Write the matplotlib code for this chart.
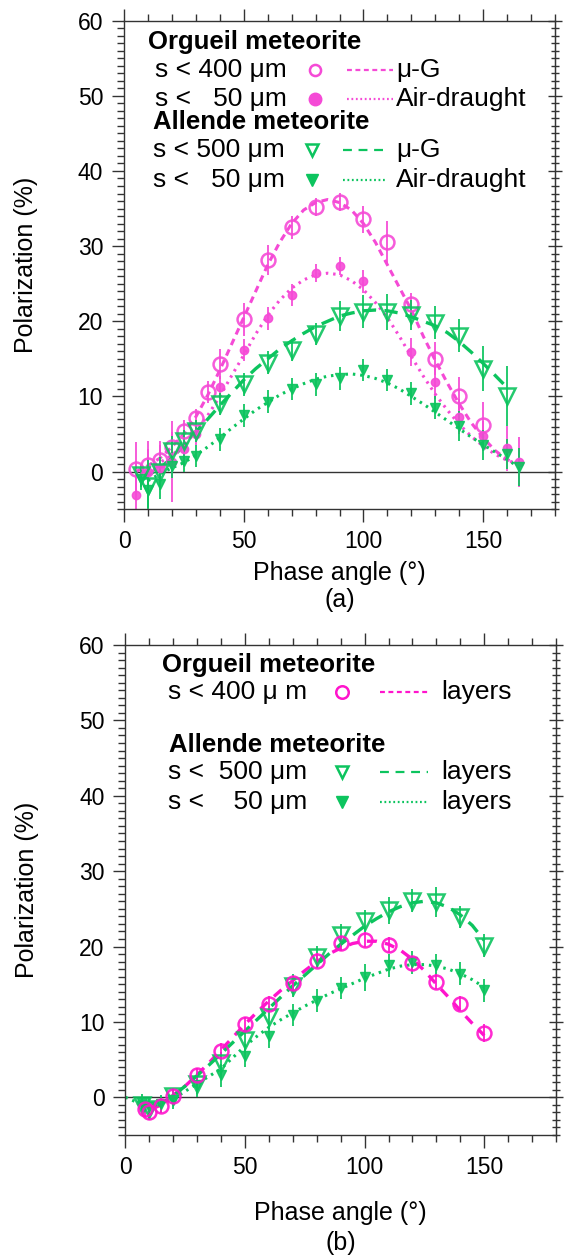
#Description: Polarization vs phase angle for Orgueil and Allende meteorite dust (two panels)

#Libraries
import numpy as np
import matplotlib
matplotlib.use('Agg')
import matplotlib.pyplot as plt
from matplotlib.ticker import MultipleLocator

plt.rcParams['font.family'] = ['Liberation Sans', 'DejaVu Sans']

#Colours
pink = '#f54ad6'
magenta = '#ff14cc'
green = '#0cc45e'

#---------------- Panel (a) data ----------------
#Orgueil s<400 um (open circles)
ang_a_org400 = [5, 10, 15, 20, 25, 30, 35, 40, 50, 60, 70, 80, 90, 100, 110, 120, 130, 140, 150]
pol_a_org400 = [0.4, 0.9, 1.6, 3.3, 5.4, 7.1, 10.6, 14.3, 20.3, 28.1, 32.5, 35.2, 35.9, 33.6, 30.5, 22.3, 15.0, 10.1, 6.2]
err_a_org400 = [3.5, 3.2, 2.5, 2.0, 1.5, 1.2, 1.5, 2.0, 2.2, 2.0, 1.5, 1.2, 1.2, 1.8, 2.8, 1.5, 2.2, 2.5, 3.0]
#Orgueil s<50 um (filled circles)
ang_a_org50 = [5, 10, 15, 20, 25, 30, 40, 50, 60, 70, 80, 90, 100, 120, 130, 140, 150, 160, 165]
pol_a_org50 = [-3.1, 0.0, 0.5, 1.3, 3.0, 5.0, 11.2, 16.2, 20.4, 23.5, 26.4, 27.3, 25.3, 15.9, 11.9, 7.3, 4.7, 3.1, 1.3]
err_a_org50 = [4.5, 3.0, 3.0, 5.4, 2.0, 1.5, 1.5, 1.5, 1.5, 1.5, 1.2, 1.2, 1.5, 1.9, 2.2, 2.3, 2.0, 3.0, 3.3]
#Allende s<500 um (open triangles)
ang_a_all500 = [7, 10, 15, 20, 25, 30, 40, 50, 60, 70, 80, 90, 100, 110, 120, 130, 140, 150, 160]
pol_a_all500 = [-0.5, -1.9, 0.0, 2.8, 4.1, 5.4, 9.0, 11.6, 14.5, 16.2, 18.3, 20.7, 21.3, 21.2, 20.8, 19.8, 18.1, 13.7, 10.1]
err_a_all500 = [1.5, 3.5, 2.0, 2.0, 1.5, 1.5, 1.5, 1.5, 1.5, 1.5, 1.5, 2.0, 2.2, 2.4, 2.0, 2.2, 2.2, 3.0, 4.0]
#Allende s<50 um (filled triangles)
ang_a_all50 = [7, 10, 15, 20, 25, 30, 40, 50, 60, 70, 80, 90, 100, 110, 120, 130, 140, 150, 160, 165]
pol_a_all50 = [-1.0, -2.4, -1.7, 0.7, 1.4, 2.1, 4.3, 7.5, 9.3, 11.0, 11.6, 12.4, 13.5, 12.2, 10.4, 8.5, 6.1, 3.6, 2.3, 0.6]
err_a_all50 = [1.5, 2.5, 2.0, 1.5, 1.5, 1.5, 1.5, 1.5, 1.5, 1.5, 1.5, 1.5, 1.5, 1.5, 1.5, 1.5, 2.0, 2.0, 2.0, 2.5]

#Fitted curves
crv_ang = [5, 10, 15, 20, 25, 30, 35, 40, 45, 50, 55, 60, 65, 70, 75, 80, 85, 90, 95, 100,
           105, 110, 115, 120, 125, 130, 135, 140, 145, 150, 155, 160, 165]
crv_a_org_mug = [0.0, 0.8, 1.8, 3.3, 5.0, 7.3, 10.2, 13.5, 17.0, 20.5, 24.0, 27.5, 30.5, 33.0, 34.8, 35.8, 36.2,
                 35.8, 34.8, 33.0, 30.5, 27.5, 24.5, 21.5, 18.0, 14.8, 11.8, 9.0, 6.5, 4.5, 2.8, 1.6, 1.0]
crv_a_org_air = [-0.5, 0.5, 1.2, 2.2, 3.5, 5.3, 7.5, 10.0, 12.8, 15.5, 18.3, 20.8, 22.8, 24.4, 25.5, 26.2, 26.4,
                 26.2, 25.4, 24.2, 22.5, 20.5, 18.0, 15.3, 12.7, 10.3, 8.2, 6.3, 4.7, 3.4, 2.3, 1.5, 1.0]
crv_ang_g = [8, 10, 15, 20, 25, 30, 35, 40, 45, 50, 55, 60, 65, 70, 75, 80, 85, 90, 95, 100,
             105, 110, 115, 120, 125, 130, 135, 140, 145, 150, 155, 159]
crv_a_all_mug = [-1.0, -0.5, 0.5, 1.8, 3.5, 5.3, 7.0, 8.8, 10.5, 12.2, 13.7, 15.0, 16.3, 17.4, 18.4, 19.3, 20.0,
                 20.7, 21.1, 21.4, 21.5, 21.4, 21.1, 20.6, 20.0, 19.4, 18.5, 17.3, 15.9, 14.4, 12.8, 11.5]
crv_ang_g2 = [10, 15, 20, 25, 30, 35, 40, 45, 50, 55, 60, 65, 70, 75, 80, 85, 90, 95, 100,
              105, 110, 115, 120, 125, 130, 135, 140, 145, 150, 155, 160, 165]
crv_a_all_air = [-1.2, -0.3, 0.5, 1.2, 2.2, 3.3, 4.5, 5.8, 7.0, 8.2, 9.2, 10.2, 11.0, 11.7, 12.3, 12.7, 12.9,
                 13.0, 12.8, 12.4, 11.8, 11.0, 10.0, 9.0, 7.9, 6.8, 5.7, 4.6, 3.6, 2.6, 1.6, 0.6]

#---------------- Panel (b) data ----------------
ang_b_org400 = [8, 10, 15, 20, 30, 40, 50, 60, 70, 80, 90, 100, 110, 120, 130, 140, 150]
pol_b_org400 = [-1.6, -2.0, -1.1, 0.2, 2.9, 6.2, 9.7, 12.4, 15.1, 18.1, 20.4, 20.9, 20.2, 17.8, 15.3, 12.4, 8.5]
err_b_org400 = [1.0, 1.0, 1.0, 1.0, 1.0, 1.0, 1.0, 1.0, 1.0, 1.0, 1.0, 1.0, 1.0, 1.0, 1.0, 1.0, 1.2]
ang_b_all500 = [7, 10, 20, 30, 40, 50, 60, 70, 80, 90, 100, 110, 120, 130, 140, 150]
pol_b_all500 = [-1.0, -1.5, 0.2, 1.7, 4.5, 7.6, 10.6, 14.8, 18.6, 21.5, 23.4, 24.8, 26.1, 25.9, 23.9, 20.1]
err_b_all500 = [1.0, 1.0, 1.0, 1.2, 1.5, 1.5, 1.5, 1.5, 1.5, 1.5, 1.5, 1.8, 1.5, 2.0, 1.5, 1.5]
ang_b_all50 = [7, 10, 15, 20, 30, 40, 50, 60, 70, 80, 90, 100, 110, 120, 130, 140, 150]
pol_b_all50 = [-0.7, -1.3, -0.9, -0.3, 1.6, 2.9, 5.5, 8.1, 10.9, 12.8, 14.5, 15.9, 17.5, 17.9, 17.5, 16.4, 14.2]
err_b_all50 = [1.2, 1.2, 1.2, 1.2, 1.5, 1.5, 1.5, 1.5, 1.5, 1.5, 1.5, 1.8, 1.5, 1.5, 1.5, 1.5, 1.5]

crv_b_ang = [5, 10, 15, 20, 25, 30, 35, 40, 45, 50, 55, 60, 65, 70, 75, 80, 85, 90, 95, 100,
             105, 110, 115, 120, 125, 130, 135, 140, 145, 150]
crv_b_org = [-0.8, -1.7, -1.0, 0.3, 1.5, 3.0, 4.6, 6.3, 8.0, 9.7, 11.3, 12.8, 14.2, 15.5, 16.8, 18.0, 19.0,
             19.8, 20.4, 20.7, 20.7, 20.3, 19.5, 18.3, 16.8, 15.0, 13.3, 11.5, 9.8, 8.2]
crv_b_all500 = [-0.5, -1.3, -0.9, 0.2, 1.5, 2.9, 4.3, 5.8, 7.3, 8.8, 10.3, 11.8, 13.3, 14.8, 16.2, 17.6, 19.0,
                20.3, 21.5, 22.7, 23.7, 24.6, 25.3, 25.8, 26.0, 25.8, 25.2, 24.2, 22.8, 20.8]
crv_b_ang2 = [0, 5, 10, 15, 20, 25, 30, 35, 40, 45, 50, 55, 60, 65, 70, 75, 80, 85, 90, 95, 100,
              105, 110, 115, 120, 125, 130, 135, 140, 145, 150]
crv_b_all50 = [0.0, -0.7, -1.2, -0.8, -0.2, 0.8, 1.8, 2.8, 3.8, 5.3, 6.8, 8.1, 9.3, 10.3, 11.2, 12.1, 12.9, 13.7,
               14.4, 15.1, 15.8, 16.4, 17.0, 17.4, 17.6, 17.6, 17.4, 17.0, 16.4, 15.6, 14.6]

#---------------- Figure ----------------
fig = plt.figure(figsize=(5.64, 12.58), dpi=100)
axa = fig.add_axes([0.2199, 0.5952, 0.7642, 0.3884])
axb = fig.add_axes([0.2225, 0.0978, 0.7633, 0.3895])

def style_axis(ax, label, xlabpad, labpos):
	ax.set_xlim(0, 180)
	ax.set_ylim(-5, 60)
	ax.axhline(0, color='#333333', lw=1.0, zorder=1)
	ax.xaxis.set_major_locator(MultipleLocator(50))
	ax.xaxis.set_minor_locator(MultipleLocator(10))
	ax.yaxis.set_major_locator(MultipleLocator(10))
	ax.yaxis.set_minor_locator(MultipleLocator(1))
	ax.tick_params(which='both', direction='out', top=True, right=False, labelsize=16.5, width=1.0,
		color='#333333', pad=6)
	ax.tick_params(which='major', length=9)
	ax.tick_params(which='minor', length=5)
	#right side ticks cross the spine
	sec = ax.secondary_yaxis('right')
	sec.yaxis.set_major_locator(MultipleLocator(10))
	sec.yaxis.set_minor_locator(MultipleLocator(1))
	sec.tick_params(which='both', direction='inout', labelright=False, width=1.0, color='#333333')
	sec.tick_params(which='major', length=10)
	sec.tick_params(which='minor', length=6)
	sec.spines['right'].set_color('#333333')
	for s in ax.spines.values():
		s.set_color('#333333')
		s.set_linewidth(1.0)
	ax.set_xlabel('Phase angle (°)', fontsize=18, labelpad=xlabpad)
	ax.set_ylabel('Polarization (%)', fontsize=18)
	ax.yaxis.set_label_coords(-0.20, 0.5)
	ax.text(0.5, labpos, label, transform=ax.transAxes, ha='center', va='center', fontsize=18)

#Panel (a)
ax = axa
style_axis(ax, '(a)', 6, -0.186)
ax.plot(crv_ang, crv_a_org_mug, color=pink, lw=2.2, ls=(0, (2.2, 1.6)))
ax.plot(crv_ang, crv_a_org_air, color=pink, lw=2.2, ls=(0, (0.8, 1.6)))
ax.plot(crv_ang_g, crv_a_all_mug, color=green, lw=2.4, ls=(0, (4, 2.5)))
ax.plot(crv_ang_g2, crv_a_all_air, color=green, lw=2.2, ls=(0, (0.8, 1.6)))
ax.errorbar(ang_a_org400, pol_a_org400, yerr=err_a_org400, fmt='o', ms=10, mfc='none', mec=pink, mew=1.8,
	ecolor=pink, elinewidth=1.4, capsize=0, alpha=0.9)
ax.errorbar(ang_a_org50, pol_a_org50, yerr=err_a_org50, fmt='o', ms=6, color=pink,
	ecolor=pink, elinewidth=1.4, capsize=0, alpha=0.9)
ax.errorbar(ang_a_all500, pol_a_all500, yerr=err_a_all500, fmt='v', ms=11, mfc='none', mec=green, mew=1.8,
	ecolor=green, elinewidth=1.4, capsize=0, alpha=0.9)
ax.errorbar(ang_a_all50, pol_a_all50, yerr=err_a_all50, fmt='v', ms=7, color=green,
	ecolor=green, elinewidth=1.4, capsize=0, alpha=0.9)

#Legend (a), drawn by hand like the original
T = ax.transAxes
ax.text(0.056, 0.956, 'Orgueil meteorite', transform=T, fontsize=18.5, fontweight='bold', va='center')
ax.text(0.072, 0.899, 's < 400 μm', transform=T, fontsize=19, va='center')
ax.text(0.072, 0.840, 's <   50 μm', transform=T, fontsize=19, va='center')
ax.text(0.067, 0.793, 'Allende meteorite', transform=T, fontsize=18.5, fontweight='bold', va='center')
ax.text(0.067, 0.736, 's < 500 μm', transform=T, fontsize=19, va='center')
ax.text(0.067, 0.674, 's <   50 μm', transform=T, fontsize=19, va='center')
ax.plot([0.443], [0.899], 'o', ms=8, mfc='none', mec=pink, mew=1.8, transform=T)
ax.plot([0.443], [0.840], 'o', ms=9, color=pink, transform=T)
ax.plot([0.436], [0.736], 'v', ms=9, mfc='none', mec=green, mew=1.8, transform=T)
ax.plot([0.436], [0.674], 'v', ms=9, color=green, transform=T)
ax.plot([0.517, 0.624], [0.899, 0.899], color=pink, lw=1.6, ls=(0, (2.2, 1.6)), transform=T)
ax.plot([0.517, 0.624], [0.840, 0.840], color=pink, lw=1.6, ls=(0, (0.8, 1.2)), transform=T)
ax.plot([0.508, 0.606], [0.736, 0.736], color=green, lw=1.6, ls=(0, (4, 3)), transform=T)
ax.plot([0.508, 0.606], [0.674, 0.674], color=green, lw=1.6, ls=(0, (0.8, 1.2)), transform=T)
ax.text(0.631, 0.899, 'μ-G', transform=T, fontsize=19, va='center')
ax.text(0.631, 0.840, 'Air-draught', transform=T, fontsize=19, va='center')
ax.text(0.631, 0.736, 'μ-G', transform=T, fontsize=19, va='center')
ax.text(0.631, 0.674, 'Air-draught', transform=T, fontsize=19, va='center')

#Panel (b)
ax = axb
style_axis(ax, '(b)', 16, -0.22)
ax.plot(crv_b_ang, crv_b_org, color=magenta, lw=2.4, ls=(0, (3, 2.5)))
ax.plot(crv_b_ang, crv_b_all500, color=green, lw=2.4, ls=(0, (4, 2.5)))
ax.plot(crv_b_ang2, crv_b_all50, color=green, lw=2.2, ls=(0, (0.8, 1.6)))
ax.errorbar(ang_b_all500, pol_b_all500, yerr=err_b_all500, fmt='v', ms=11, mfc='none', mec=green, mew=1.8,
	ecolor=green, elinewidth=1.4, capsize=0, alpha=0.9)
ax.errorbar(ang_b_all50, pol_b_all50, yerr=err_b_all50, fmt='v', ms=7, color=green,
	ecolor=green, elinewidth=1.4, capsize=0, alpha=0.9)
ax.errorbar(ang_b_org400, pol_b_org400, yerr=err_b_org400, fmt='o', ms=10, mfc='none', mec=magenta, mew=1.8,
	ecolor=magenta, elinewidth=1.4, capsize=0, alpha=0.9)

T = ax.transAxes
ax.text(0.085, 0.959, 'Orgueil meteorite', transform=T, fontsize=18.5, fontweight='bold', va='center')
ax.text(0.099, 0.904, 's < 400 μ m', transform=T, fontsize=19, va='center')
ax.text(0.101, 0.796, 'Allende meteorite', transform=T, fontsize=18.5, fontweight='bold', va='center')
ax.text(0.099, 0.741, 's <  500 μm', transform=T, fontsize=19, va='center')
ax.text(0.099, 0.680, 's <    50 μm', transform=T, fontsize=19, va='center')
ax.plot([0.503], [0.904], 'o', ms=9, mfc='none', mec=magenta, mew=1.8, transform=T)
ax.plot([0.503], [0.741], 'v', ms=9, mfc='none', mec=green, mew=1.8, transform=T)
ax.plot([0.503], [0.680], 'v', ms=9, color=green, transform=T)
ax.plot([0.591, 0.703], [0.904, 0.904], color=magenta, lw=1.6, ls=(0, (2.2, 1.6)), transform=T)
ax.plot([0.591, 0.703], [0.741, 0.741], color=green, lw=1.6, ls=(0, (4, 3)), transform=T)
ax.plot([0.591, 0.703], [0.680, 0.680], color=green, lw=1.6, ls=(0, (0.8, 1.2)), transform=T)
ax.text(0.733, 0.904, 'layers', transform=T, fontsize=19, va='center')
ax.text(0.733, 0.741, 'layers', transform=T, fontsize=19, va='center')
ax.text(0.733, 0.680, 'layers', transform=T, fontsize=19, va='center')

plt.savefig('out.png', dpi=100)
